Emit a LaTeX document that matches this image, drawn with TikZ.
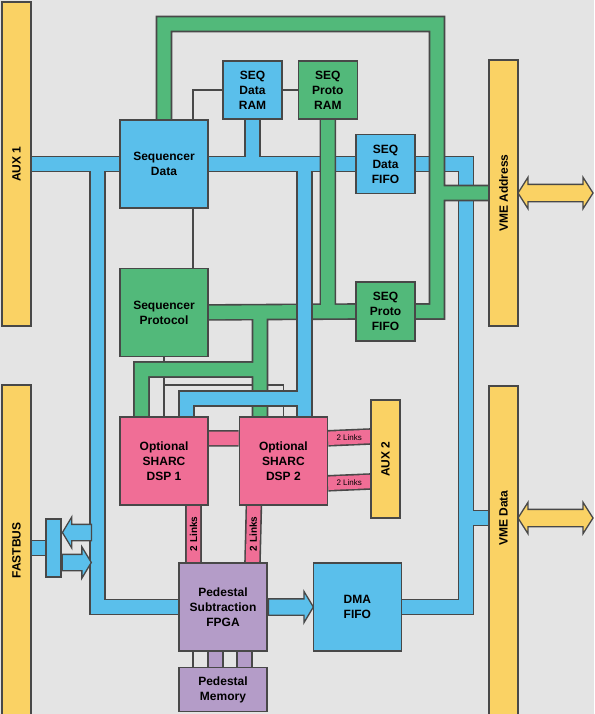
\documentclass[tikz,border=0pt]{standalone}
\usepackage{fontspec}
\setmainfont{Liberation Sans}
\usetikzlibrary{shapes,arrows}
\usetikzlibrary{positioning}

\definecolor{bgc}{RGB}{228,228,228}
\definecolor{edgec}{RGB}{72,72,72}
\definecolor{bluec}{RGB}{90,191,235}
\definecolor{greenc}{RGB}{82,185,122}
\definecolor{pinkc}{RGB}{240,110,150}
\definecolor{yellowc}{RGB}{250,210,100}
\definecolor{purplec}{RGB}{180,156,200}

\pgfdeclarelayer{back}
\pgfsetlayers{back,main}

\tikzset{
  blk/.style={draw=edgec, line width=1.4pt, inner sep=0pt, align=center,
    font=\fontsize{12}{15}\selectfont\bfseries,
    minimum width=88pt, minimum height=88pt},
  seqbox/.style={blk, minimum width=59pt, minimum height=59pt},
  bar/.style={blk, fill=yellowc, minimum width=29pt},
  bus/.style={draw=#1, line width=13.4pt,
    preaction={draw=edgec, line width=16.6pt}},
  wire/.style={draw=edgec, line width=1.1pt},
  fatarrow/.style={single arrow, draw=edgec, line width=1.3pt, fill=bluec,
    inner sep=7.5pt, single arrow head extend=7.5pt,
    single arrow tip angle=118, minimum height=#1},
  vmearrow/.style={double arrow, draw=edgec, line width=1.3pt, fill=yellowc,
    inner sep=8pt, double arrow head extend=7pt,
    double arrow tip angle=115, minimum height=75pt},
  linkv/.style={font=\fontsize{10}{12}\selectfont\bfseries, rotate=90, inner sep=0pt},
  linkh/.style={font=\fontsize{8}{10}\selectfont, inner sep=0pt},
}

\begin{document}
\begin{tikzpicture}[x=1pt,y=-1pt]
\useasboundingbox (0,0) rectangle (594,714);
% sequencer
\path node[blk, fill=bluec] (sd) at (164,164) {Sequencer\\Data};
\path node[seqbox, fill=bluec, minimum height=58pt] (sdram) at (252.5,90) {SEQ\\Data\\RAM};
\path node[seqbox, fill=greenc, minimum height=58pt, right=15pt of sdram] (spram) {SEQ\\Proto\\RAM};
\path node[seqbox, fill=bluec] (sdfifo) at (385.5,164) {SEQ\\Data\\FIFO};
\path node[blk, fill=greenc, below=59pt of sd] (sp) {Sequencer\\Protocol};
\path node[seqbox, fill=greenc] (spfifo) at (385.5,311.5) {SEQ\\Proto\\FIFO};
% dsp and pedestal
\path node[blk, fill=pinkc, below=59pt of sp] (dsp1) {Optional\\SHARC\\DSP 1};
\path node[blk, fill=pinkc, right=30pt of dsp1] (dsp2) {Optional\\SHARC\\DSP 2};
\path node[blk, fill=purplec] (fpga) at (223,607) {Pedestal\\Subtraction\\FPGA};
\path node[blk, fill=purplec, minimum height=44pt, below=15pt of fpga] (mem) {Pedestal\\Memory};
\path node[blk, fill=bluec, right=45pt of fpga] (dma) {DMA\\FIFO};
% bars
\path node[bar, minimum height=324pt] (aux1) at (16.5,164) {\rotatebox{90}{AUX 1}};
\path node[bar, minimum height=331pt] (fastbus) at (16.5,550.5) {\rotatebox{90}{FASTBUS}};
\path node[bar, minimum height=266pt] (vmea) at (503.5,193) {\rotatebox{90}{VME Address}};
\path node[bar, minimum height=330pt] (vmed) at (503.5,551) {};
\path node[font=\fontsize{12}{15}\selectfont\bfseries] (vmedlbl) at (503.5,518) {\rotatebox{90}{VME Data}};
\path node[bar, minimum height=118pt] (aux2) at (385.5,459) {\rotatebox{90}{AUX 2}};
\path node[vmearrow] (vmeaarr) at (555.5,193) {};
\path node[vmearrow] (vmedarr) at (555.5,518) {};
% fastbus port
\path node[draw=edgec, line width=1.3pt, fill=bluec, minimum width=15pt, minimum height=58pt, inner sep=0pt] (fbx) at (53.5,548) {};
\path node[fatarrow=29pt, shape border rotate=180, anchor=tip] (fbin) at ([yshift=15.5pt]fbx.east) {};
\path node[fatarrow=29pt, anchor=tail] (fbout) at ([yshift=-14.5pt]fbx.east) {};
\path node[fatarrow=45pt, anchor=tail] (fparrow) at (fpga.east) {};

\coordinate (gtr) at (437,24);
\coordinate (gdsp) at (260,369.5);
\coordinate (bdsp) at (304.5,398.5);
\coordinate (bbr) at (466,607);
\coordinate (bbl) at (97.5,607);
\coordinate (wk) at (164,385);

\begin{pgfonlayer}{back}
\fill[bgc] (0,0) rectangle (594,714);
% control lines
\draw[wire] ([xshift=29pt]sd.north) |- (sdram.west);
\draw[wire] (sdram.east) -- (spram.west);
\draw[wire] ([xshift=29pt]sd.south) -- ([xshift=29pt]sp.north);
\draw[wire] (sp.south) -- (dsp1.north);
\draw[wire] (wk) -| (dsp2.north);
\draw[wire] ([xshift=-30pt]fpga.south) -- ([xshift=-30pt]mem.north);
% data bus
\draw[bus=bluec] (aux1.east) -- (aux1.east -| sdfifo.west)
  (sdram.south) -- (sdram.south |- aux1.east)
  (sdfifo.east) -| (bbr) -- (dma.east)
  (bbr |- vmedlbl) -- (vmed.west |- vmedlbl)
  (aux1.east -| bbl) |- (fpga.west)
  (fastbus.east |- fbx) -- (fbx)
  (bdsp |- aux1.east) -- (bdsp |- dsp2.north)
  (bdsp) -| ([xshift=22.5pt]dsp1.north);
% protocol bus
\draw[bus=greenc] (sd.north) |- (gtr) |- (spfifo.east)
  (gtr |- vmea) -- (vmea.west)
  (sp.east) -- (spfifo.west)
  (spram.south) -- (spram.south |- sp.east)
  (gdsp |- sp.east) -- (gdsp |- dsp2.north)
  (gdsp) -| ([xshift=-22.5pt]dsp1.north);
\draw[bus=bluec] (bdsp |- sp.east) ++(0,-12) -- ++(0,24)
  (gdsp |- bdsp) ++(-12,0) -- ++(24,0);
% links
\draw[bus=pinkc] ([yshift=22.5pt]dsp1.east) -- ([yshift=22.5pt]dsp2.west)
  ([xshift=29.5pt]dsp1.south) -- node[linkv] {2 Links} ([xshift=-29.5pt]fpga.north)
  ([xshift=-29.5pt]dsp2.south) -- node[linkv] {2 Links} ([xshift=29.5pt]fpga.north)
  ([yshift=22.5pt]dsp2.east) -- node[linkh] {2 Links} ([yshift=22.5pt]aux2.west)
  ([yshift=-22.5pt]dsp2.east) -- node[linkh] {2 Links} ([yshift=-22.5pt]aux2.west);
\draw[bus=purplec] ([xshift=-7.5pt]fpga.south) -- ([xshift=-7.5pt]mem.north)
  ([xshift=21.5pt]fpga.south) -- ([xshift=21.5pt]mem.north);
\end{pgfonlayer}
\end{tikzpicture}
\end{document}
